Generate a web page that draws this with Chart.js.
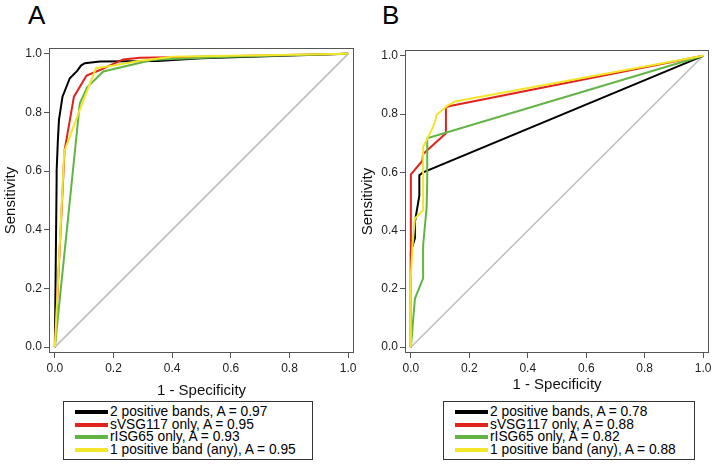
<!DOCTYPE html>
<html lang="en">
<head>
<meta charset="UTF-8"/>
<title>ROC curves A / B</title>
<script src="https://cdn.jsdelivr.net/npm/chart.js"></script>
<style>
    body { margin: 0; background: #fff; font-family: "Liberation Sans", Arial, sans-serif; }
    #wrap { position: relative; width: 716px; height: 466px; overflow: hidden; }
    #wrap canvas { position: absolute; top: 0; }
    .panel-letter { position: absolute; top: 0px; font-size: 26px; line-height: 30px; color: #000; }
    .legend { position: absolute; top: 401px; height: 59px; border: 1px solid #333; box-sizing: border-box; font-size: 14.5px; color: #000; }
    .legend-row { position: absolute; left: 0; height: 13px; line-height: 13px; white-space: nowrap; }
    .legend-swatch { position: absolute; left: 11px; top: 5px; width: 33px; height: 4px; }
    .legend-text { position: absolute; left: 46px; top: 0; transform: scaleX(0.95); transform-origin: 0 50%; }
</style>
</head>
<body>
<div id="wrap">
    <div class="panel-letter" style="left:28px;">A</div>
    <div class="panel-letter" style="left:382px;">B</div>
    <canvas id="rocA" width="358" height="400" style="left:0;"></canvas>
    <canvas id="rocB" width="358" height="400" style="left:358px;"></canvas>
    <div class="legend" id="legendA" style="left:63px; width:250px;"></div>
    <div class="legend" id="legendB" style="left:443px; width:252px;"></div>
</div>

<script>
// dados
const tickValues = [0, 0.2, 0.4, 0.6, 0.8, 1.0];
const seriesLabels = ['2 positive bands', 'sVSG117 only', 'rISG65 only', '1 positive band (any)'];
const seriesColors = ['#000000', '#e0231c', '#62b444', '#f3e52a'];
const aucA = [0.97, 0.95, 0.93, 0.95];
const aucB = [0.78, 0.88, 0.82, 0.88];

const chanceX = [0, 1];
const chanceY = [0, 1];

// painel A
const aBlackX = [0, 0.006, 0.006, 0.01, 0.014, 0.026, 0.051, 0.076, 0.089, 0.102, 0.154, 0.35, 0.5, 1];
const aBlackY = [0, 0.57, 0.6, 0.7, 0.775, 0.854, 0.917, 0.942, 0.96, 0.968, 0.974, 0.976, 0.985, 1];
const aRedX = [0, 0.033, 0.065, 0.108, 0.154, 0.233, 0.29, 0.5, 1];
const aRedY = [0, 0.67, 0.854, 0.926, 0.945, 0.981, 0.987, 0.99, 1];
const aGreenX = [0, 0.085, 0.11, 0.165, 0.335, 0.6, 1];
const aGreenY = [0, 0.831, 0.886, 0.94, 0.98, 0.99, 1];
const aYellowX = [0, 0.032, 0.085, 0.14, 0.2, 0.28, 0.4, 1];
const aYellowY = [0, 0.667, 0.809, 0.951, 0.96, 0.975, 0.99, 1];

// painel B
const bBlackX = [0, 0, 0.005, 0.014, 0.014, 0.029, 0.029, 0.042, 1];
const bBlackY = [0, 0.33, 0.345, 0.374, 0.43, 0.52, 0.59, 0.6, 1];
const bRedX = [0, 0, 0.039, 0.042, 0.12, 0.12, 0.134, 1];
const bRedY = [0, 0.593, 0.639, 0.663, 0.734, 0.823, 0.828, 1];
const bGreenX = [0, 0.014, 0.042, 0.042, 0.054, 0.056, 0.056, 1];
const bGreenY = [0, 0.167, 0.236, 0.35, 0.48, 0.57, 0.717, 1];
const bYellowX = [0, 0, 0.005, 0.014, 0.042, 0.042, 0.054, 0.071, 0.082, 0.088, 0.124, 0.151, 1];
const bYellowY = [0, 0.24, 0.34, 0.442, 0.47, 0.688, 0.711, 0.746, 0.771, 0.797, 0.828, 0.843, 1];

Chart.defaults.font.family = '"Liberation Sans", Arial, sans-serif';

function toPoints(xs, ys) {
    return xs.map((x, i) => ({ x: x, y: ys[i] }));
}

function lineSet(xs, ys, color, width, order) {
    return {
        data: toPoints(xs, ys),
        showLine: true,
        borderColor: color,
        backgroundColor: color,
        borderWidth: width,
        pointRadius: 0,
        tension: 0,
        order: order
    };
}

// moldura em volta da area do grafico
const boxPlugin = {
    id: 'box',
    afterDraw(chart) {
        const a = chart.chartArea;
        const ctx = chart.ctx;
        ctx.save();
        ctx.strokeStyle = '#555';
        ctx.lineWidth = 1;
        ctx.strokeRect(Math.round(a.left) + 0.5, Math.round(a.top) + 0.5,
            Math.round(a.right - a.left) - 1, Math.round(a.bottom - a.top) - 1);
        ctx.restore();
    }
};

function makeChart(id, curves, lay) {
    const datasets = [lineSet(chanceX, chanceY, '#bdbdbd', 1.5, 9)];
    curves.forEach((c, i) => {
        datasets.push(lineSet(c[0], c[1], seriesColors[i], 2, 3 - i));
    });
    const axisCommon = {
        type: 'linear',
        min: -0.02,
        max: 1.02,
        afterBuildTicks: s => { s.ticks = tickValues.map(v => ({ value: v })); },
        ticks: {
            callback: v => v.toFixed(1),
            font: { size: 12 },
            color: '#222',
            maxRotation: 0,
            autoSkip: false
        },
        grid: { drawOnChartArea: false, drawTicks: true, tickLength: 5, color: '#555' },
        border: { display: false }
    };
    return new Chart(document.getElementById(id).getContext('2d'), {
        type: 'scatter',
        data: { datasets: datasets },
        options: {
            responsive: false,
            animation: false,
            layout: { padding: { left: 0, top: lay.top, right: lay.right, bottom: 0 } },
            plugins: { legend: { display: false }, tooltip: { enabled: false } },
            scales: {
                x: Object.assign({}, axisCommon, {
                    position: 'bottom',
                    ticks: Object.assign({}, axisCommon.ticks, { padding: 3 }),
                    afterFit: s => { s.height = 47; s.paddingLeft = 0; s.paddingRight = 0; },
                    title: { display: true, text: '1 - Specificity', font: { size: 15 }, color: '#111',
                        padding: { top: 0, bottom: lay.xTitle } }
                }),
                y: Object.assign({}, axisCommon, {
                    position: 'left',
                    ticks: Object.assign({}, axisCommon.ticks, { padding: 2 }),
                    afterFit: s => { s.width = lay.yWidth; s.paddingTop = 0; s.paddingBottom = 0; },
                    title: { display: true, text: 'Sensitivity', font: { size: 15 }, color: '#111',
                        padding: { top: lay.yTitle, bottom: 0 } }
                })
            }
        },
        plugins: [boxPlugin]
    });
}

makeChart('rocA', [[aBlackX, aBlackY], [aRedX, aRedY], [aGreenX, aGreenY], [aYellowX, aYellowY]],
    { top: 48, right: 4, yWidth: 49, xTitle: 0, yTitle: 2 });
makeChart('rocB', [[bBlackX, bBlackY], [bRedX, bRedY], [bGreenX, bGreenY], [bYellowX, bYellowY]],
    { top: 50, right: 7, yWidth: 47, xTitle: 6, yTitle: 1 });

// legendas em caixa
function buildLegend(elId, aucs) {
    const box = document.getElementById(elId);
    seriesLabels.forEach((name, i) => {
        const row = document.createElement('div');
        row.className = 'legend-row';
        row.style.top = (3 + i * 12.7) + 'px';
        const sw = document.createElement('span');
        sw.className = 'legend-swatch';
        sw.style.background = seriesColors[i];
        const tx = document.createElement('span');
        tx.className = 'legend-text';
        tx.textContent = name + ', A = ' + aucs[i].toFixed(2);
        row.appendChild(sw);
        row.appendChild(tx);
        box.appendChild(row);
    });
}
buildLegend('legendA', aucA);
buildLegend('legendB', aucB);
</script>
</body>
</html>
